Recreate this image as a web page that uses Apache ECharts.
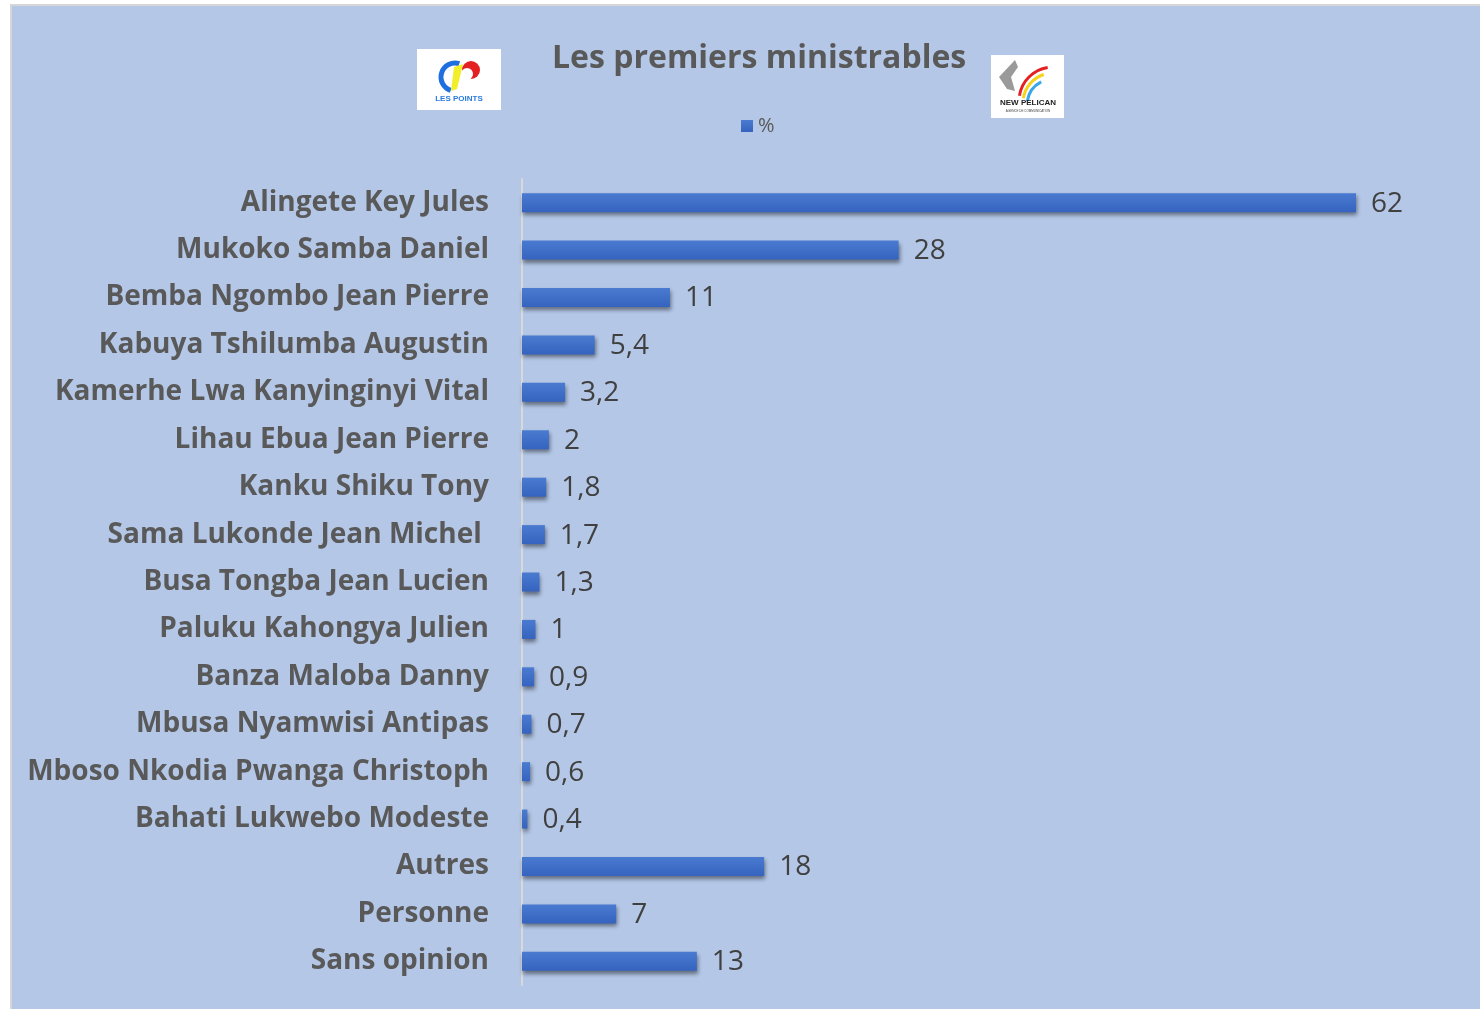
<!DOCTYPE html>
<html>
<head>
<meta charset="utf-8">
<script src="https://cdn.jsdelivr.net/npm/echarts@6/dist/echarts.min.js"></script>
<style>
  html, body { margin: 0; padding: 0; background: #fff; }
  #bg { position: absolute; left: 10px; top: 4px; width: 1470px; height: 1005px;
        background: #B4C7E7; border-left: 2px solid #D6D6D6; border-top: 2px solid #D6D6D6; box-sizing: border-box; }
  #chart { position: absolute; left: 0; top: 0; width: 1480px; height: 1009px; }
</style>
</head>
<body>
<div id="bg"></div>
<div id="chart"></div>
<script>
// noms des personnalités (haut -> bas)
const names = [
  'Alingete Key Jules', 'Mukoko Samba Daniel', 'Bemba Ngombo Jean Pierre',
  'Kabuya Tshilumba Augustin', 'Kamerhe Lwa Kanyinginyi Vital', 'Lihau Ebua Jean Pierre',
  'Kanku Shiku Tony', 'Sama Lukonde Jean Michel ', 'Busa Tongba Jean Lucien',
  'Paluku Kahongya Julien', 'Banza Maloba Danny', 'Mbusa Nyamwisi Antipas',
  'Mboso Nkodia Pwanga Christoph', 'Bahati Lukwebo Modeste', 'Autres', 'Personne', 'Sans opinion'
]
// pourcentages
const pct = [62, 28, 11, 5.4, 3.2, 2, 1.8, 1.7, 1.3, 1, 0.9, 0.7, 0.6, 0.4, 18, 7, 13]

const font = '"Open Sans", Lato, sans-serif'

const option = {
  animation: false,
  textStyle: { fontFamily: font },
  title: {
    text: 'Les premiers ministrables',
    left: 547, top: 38,
    textStyle: { fontSize: 32, fontWeight: 'bold', color: '#595959', fontFamily: font }
  },
  legend: {
    data: ['%'],
    left: 736, top: 111,
    icon: 'rect', itemWidth: 12, itemHeight: 12, itemGap: 6,
    textStyle: { fontSize: 20, color: '#595959', fontFamily: font }
  },
  grid: { left: 522, width: 834, top: 179, height: 806 },
  xAxis: {
    type: 'value', min: 0, max: 62,
    show: false
  },
  yAxis: {
    type: 'category', inverse: true, data: names,
    axisLine: { show: true, lineStyle: { color: '#D9D9D9', width: 2 } },
    axisTick: { show: false },
    axisLabel: { fontSize: 28, fontWeight: 'bold', color: '#595959', margin: 33, fontFamily: font }
  },
  series: [{
    name: '%',
    type: 'bar',
    data: pct,
    barWidth: 19,
    itemStyle: {
      color: new echarts.graphic.LinearGradient(0, 0, 0, 1, [
        { offset: 0, color: '#4A7BD0' }, { offset: 1, color: '#3563BF' }
      ]),
      shadowColor: 'rgba(0,0,0,0.45)', shadowBlur: 4, shadowOffsetY: 3, shadowOffsetX: 1
    },
    label: {
      show: true, position: 'right', distance: 15, offset: [0, 1],
      fontSize: 28, color: '#404040', fontFamily: font,
      formatter: p => String(p.value).replace('.', ',')
    }
  }],
  // logos approximés
  graphic: [
    {
      type: 'group', left: 417, top: 49,
      children: [
        { type: 'rect', shape: { x: 0, y: 0, width: 84, height: 61 }, style: { fill: '#fff' } },
        { type: 'arc', shape: { cx: 38, cy: 28, r: 14, startAngle: Math.PI * 0.6, endAngle: Math.PI * 1.6 },
          style: { stroke: '#1E6FE0', lineWidth: 5, fill: null } },
        { type: 'polygon', shape: { points: [[37, 18], [46, 15], [40, 40], [34, 42]] }, style: { fill: '#F2EE2A' } },
        { type: 'circle', shape: { cx: 54, cy: 21, r: 9 }, style: { fill: '#E42020' } },
        { type: 'circle', shape: { cx: 50, cy: 25, r: 6 }, style: { fill: '#fff' } },
        { type: 'text', style: { x: 42, y: 50, text: 'LES POINTS', fontSize: 8, fontWeight: 'bold', fill: '#2A7BE0', align: 'center', verticalAlign: 'middle' } }
      ]
    },
    {
      type: 'group', left: 991, top: 55,
      children: [
        { type: 'rect', shape: { x: 0, y: 0, width: 73, height: 63 }, style: { fill: '#fff' } },
        { type: 'polygon', shape: { points: [[8, 22], [24, 5], [27, 12], [20, 22], [24, 36], [16, 34]] }, style: { fill: '#9A9A9A' } },
        { type: 'arc', shape: { cx: 62, cy: 46, r: 34, startAngle: Math.PI * 1.05, endAngle: Math.PI * 1.45 }, style: { stroke: '#E42020', lineWidth: 3, fill: null } },
        { type: 'arc', shape: { cx: 62, cy: 48, r: 30, startAngle: Math.PI * 1.05, endAngle: Math.PI * 1.4 }, style: { stroke: '#F5D21E', lineWidth: 3, fill: null } },
        { type: 'arc', shape: { cx: 62, cy: 50, r: 26, startAngle: Math.PI * 1.05, endAngle: Math.PI * 1.35 }, style: { stroke: '#3AA8E8', lineWidth: 3, fill: null } },
        { type: 'text', style: { x: 37, y: 48, text: 'NEW PELICAN', fontSize: 8, fontWeight: 'bold', fill: '#222', align: 'center', verticalAlign: 'middle' } },
        { type: 'text', style: { x: 37, y: 56, text: 'AGENCE DE COMMUNICATION', fontSize: 3, fill: '#444', align: 'center', verticalAlign: 'middle' } }
      ]
    }
  ]
}

const myChart = echarts.init(document.getElementById('chart'))
myChart.setOption(option)
</script>
</body>
</html>
